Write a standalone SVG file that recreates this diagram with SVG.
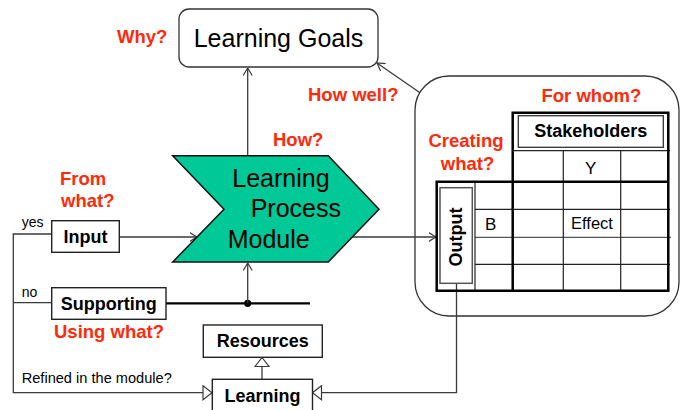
<svg xmlns="http://www.w3.org/2000/svg" width="680" height="410" viewBox="0 0 680 410">
<defs>
<style>
text{font-family:"Liberation Sans",Arial,sans-serif;fill:#000}
.q{fill:#FF2A0A;font-weight:bold;font-size:18.5px}
.b{font-weight:bold;font-size:18px}
.box{fill:#fff;stroke:#222;stroke-width:1.4}
.con{fill:none;stroke:#3a3a3a;stroke-width:1.3}
.thick{stroke:#000;stroke-width:2.5;fill:none}
.thin{stroke:#222;stroke-width:1.2;fill:none}
.sm{font-size:14px}
</style>
<marker id="open" markerUnits="userSpaceOnUse" viewBox="0 0 8 10" refX="7.5" refY="5" markerWidth="8" markerHeight="10" orient="auto">
<path d="M0,0.5 L7.5,5 L0,9.5" fill="none" stroke="#3a3a3a" stroke-width="1.2"/>
</marker>
<marker id="tri" markerUnits="userSpaceOnUse" viewBox="-1 -1 11 16" refX="9" refY="7" markerWidth="11" markerHeight="16" orient="auto">
<path d="M0,0 L9,7 L0,14 Z" fill="#fff" stroke="#3a3a3a" stroke-width="1.2"/>
</marker>
</defs>
<rect width="680" height="410" fill="#fff"/>

<g id="connectors">
<line class="con" x1="247.7" y1="156" x2="247.7" y2="68" marker-end="url(#open)"/>
<line class="con" x1="420" y1="92.7" x2="377" y2="63" marker-end="url(#open)"/>
<line class="con" x1="119.3" y1="237" x2="197" y2="237" marker-end="url(#open)"/>
<line class="con" x1="340" y1="237" x2="436" y2="237" marker-end="url(#open)"/>
<line x1="166" y1="303.3" x2="310" y2="303.3" stroke="#000" stroke-width="2.2"/>
<circle cx="247.7" cy="303.3" r="3.6" fill="#000"/>
<line class="con" x1="247.7" y1="303.3" x2="247.7" y2="263" marker-end="url(#open)"/>
<polyline class="con" points="51.7,234 13.3,234 13.3,392.7 212,392.7" marker-end="url(#tri)"/>
<line class="con" x1="13.3" y1="302.7" x2="51.7" y2="302.7"/>
<polyline class="con" points="456.5,283.3 456.5,392.7 312.5,392.7" marker-end="url(#tri)"/>
<line class="con" x1="262" y1="379.3" x2="262" y2="357.5" marker-end="url(#tri)"/>
</g>

<g id="goals">
<rect x="179" y="9" width="199" height="58" rx="10" fill="#fff" stroke="#333" stroke-width="1.3"/>
<text x="278.5" y="47" font-size="25" text-anchor="middle">Learning Goals</text>
</g>
<text class="q" x="117" y="43">Why?</text>
<text class="q" x="308" y="101">How well?</text>
<text class="q" x="273" y="146">How?</text>

<g id="module">
<polygon points="172.7,155.7 328.3,155.7 379,209.3 328.3,262 172.7,262 224,209.3" fill="#00C896" stroke="#111" stroke-width="1.5"/>
<text x="232.3" y="186.7" font-size="25">Learning</text>
<text x="250.7" y="216.7" font-size="25">Process</text>
<text x="227.7" y="248.3" font-size="25">Module</text>
</g>

<g id="input">
<rect class="box" x="51.7" y="220.7" width="67.6" height="31.6"/>
<text class="b" x="85.5" y="242.5" text-anchor="middle">Input</text>
</g>
<text class="q" x="60" y="185">From</text>
<text class="q" x="61" y="206.7">what?</text>
<text class="sm" x="21.7" y="227">yes</text>
<text class="sm" x="21.7" y="296.5">no</text>

<g id="supporting">
<rect class="box" x="51.7" y="287.7" width="114.3" height="31.6"/>
<text class="b" x="108.8" y="310" text-anchor="middle">Supporting</text>
</g>
<text class="q" x="54" y="338.3">Using what?</text>

<g id="resources">
<rect class="box" x="203.3" y="325" width="119" height="32.3"/>
<text class="b" x="262.8" y="346.8" text-anchor="middle">Resources</text>
</g>

<g id="learning">
<rect class="box" x="212.3" y="379.3" width="100.2" height="40"/>
<text class="b" x="262.4" y="401.7" text-anchor="middle">Learning</text>
</g>
<text x="21.7" y="383.3" font-size="14.6">Refined in the module?</text>

<g id="output-matrix">
<rect x="415" y="76" width="264" height="240" rx="34" fill="none" stroke="#333" stroke-width="1.3"/>
<text class="q" x="541.5" y="101.7">For whom?</text>
<text class="q" x="466" y="146.7" text-anchor="middle">Creating</text>
<text class="q" x="467.5" y="170" text-anchor="middle">what?</text>
<line class="thin" x1="512.7" y1="150.7" x2="670" y2="150.7"/>
<line class="thin" x1="475" y1="209.3" x2="670" y2="209.3"/>
<line x1="475" y1="237.3" x2="671" y2="237.3" stroke="#555" stroke-width="1.3"/>
<line class="thin" x1="475" y1="264.3" x2="670" y2="264.3"/>
<line class="thin" x1="563.3" y1="150.7" x2="563.3" y2="290.7"/>
<line class="thin" x1="620.7" y1="150.7" x2="620.7" y2="290.7"/>
<line class="thin" x1="475" y1="181.7" x2="475" y2="290.7"/>
<polyline class="thick" points="512.7,181.7 512.7,112.7 668.3,112.7 668.3,290.7 436.7,290.7 436.7,181.7 668.3,181.7"/>
<line class="thick" x1="512.7" y1="181.7" x2="512.7" y2="290.7"/>
<rect x="518.3" y="115.7" width="145" height="31.6" fill="#fff" stroke="#333" stroke-width="1.3"/>
<text class="b" x="590.8" y="137" text-anchor="middle">Stakeholders</text>
<text x="590.7" y="174" font-size="17" text-anchor="middle">Y</text>
<text x="485" y="229.5" font-size="17">B</text>
<text x="592" y="229" font-size="16.5" text-anchor="middle">Effect</text>
<rect x="440" y="187.7" width="32.3" height="95.6" fill="#fff" stroke="#555" stroke-width="1.5"/>
<text class="b" transform="translate(461.5,237) rotate(-90)" text-anchor="middle">Output</text>
</g>
</svg>
